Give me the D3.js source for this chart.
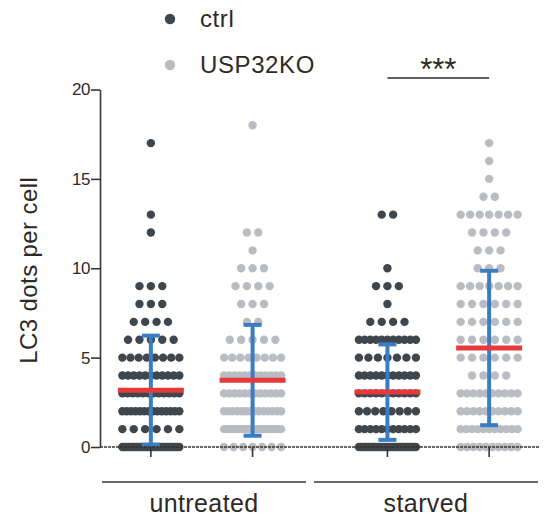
<!DOCTYPE html>
<html>
<head>
<meta charset="utf-8">
<script src="https://cdn.jsdelivr.net/npm/d3@7"></script>
<style>
  body { margin: 0; background: #fff; }
  text { font-family: "Liberation Sans", Arial, sans-serif; fill: #2e2a26; }
</style>
</head>
<body>
<div id="chart"></div>
<script>
// categories
var treatments = ["untreated", "starved"];
var genotypes = ["ctrl", "USP32KO"];

// LC3 dots per cell (0..18) and how many cells were counted at each level
var dotLevels = [0, 1, 2, 3, 4, 5, 6, 7, 8, 9, 10, 11, 12, 13, 14, 15, 16, 17, 18];
var ctrlUntreated = [26, 6, 14, 12, 11, 8, 5, 4, 3, 3, 0, 0, 1, 1, 0, 0, 0, 1, 0];
var koUntreated   = [7, 20, 14, 12, 12, 8, 5, 2, 3, 4, 3, 1, 2, 0, 0, 0, 0, 0, 1];
var ctrlStarved   = [26, 11, 8, 11, 11, 7, 11, 4, 1, 3, 1, 0, 0, 2, 0, 0, 0, 0, 0];
var koStarved     = [10, 11, 10, 10, 4, 6, 6, 6, 6, 7, 3, 3, 4, 7, 2, 1, 1, 1, 0];

// mean and SD (ctrl/untr, KO/untr, ctrl/starv, KO/starv)
var groupMeans = [3.18, 3.73, 3.07, 5.54];
var groupSDs   = [3.05, 3.10, 2.67, 4.32];

var yTicks = [0, 5, 10, 15, 20];

var groups = [
  {t: "untreated", g: "ctrl",    counts: ctrlUntreated},
  {t: "untreated", g: "USP32KO", counts: koUntreated},
  {t: "starved",   g: "ctrl",    counts: ctrlStarved},
  {t: "starved",   g: "USP32KO", counts: koStarved}
];
groups.forEach(function(d, i) { d.mean = groupMeans[i]; d.sd = groupSDs[i]; });

var color = d3.scaleOrdinal().domain(genotypes).range(["#3e474e", "#b9bdc3"]);

var W = 548, H = 527;
var svg = d3.select("#chart").append("svg")
  .attr("width", W)
  .attr("height", H);

// scales
var y = d3.scaleLinear().domain([0, 20]).range([447, 89.5]);
var xOuter = d3.scaleBand().domain(treatments).range([100, 540])
  .paddingInner(0.14).paddingOuter(0);
var xInner = d3.scaleBand().domain(genotypes).range([0, xOuter.bandwidth()]);
function xc(t, g) { return xOuter(t) + xInner(g) + xInner.bandwidth() / 2; }

// dots, one row per level, spread sideways
var dots = [];
groups.forEach(function(grp) {
  grp.counts.forEach(function(n, k) {
    var step = n > 1 ? Math.min(11.4, 57 / (n - 1)) : 0;
    for (var i = 0; i < n; i++) {
      dots.push({g: grp.g, cx: xc(grp.t, grp.g) + (i - (n - 1) / 2) * step, v: dotLevels[k]});
    }
  });
});

svg.append("g").selectAll("circle")
  .data(dots)
  .enter().append("circle")
    .attr("cx", function(d) { return d.cx; })
    .attr("cy", function(d) { return y(d.v); })
    .attr("r", 4.2)
    .attr("fill", function(d) { return color(d.g); });

// SD error bars
var eb = svg.append("g").attr("stroke", "#3a7dc4").attr("stroke-width", 4).attr("fill", "none");
groups.forEach(function(d) {
  var cx = xc(d.t, d.g);
  var top = y(d.mean + d.sd), bot = y(Math.max(0, d.mean - d.sd));
  eb.append("line").attr("x1", cx).attr("x2", cx).attr("y1", top).attr("y2", bot);
  eb.append("line").attr("x1", cx - 9).attr("x2", cx + 9).attr("y1", top).attr("y2", top);
  eb.append("line").attr("x1", cx - 9).attr("x2", cx + 9).attr("y1", bot).attr("y2", bot);
});

// mean lines
svg.append("g").selectAll("line")
  .data(groups)
  .enter().append("line")
    .attr("x1", function(d) { return xc(d.t, d.g) - 33; })
    .attr("x2", function(d) { return xc(d.t, d.g) + 33; })
    .attr("y1", function(d) { return y(d.mean); })
    .attr("y2", function(d) { return y(d.mean); })
    .attr("stroke", "#e8393a")
    .attr("stroke-width", 5);

// y axis
var yAxis = svg.append("g")
  .attr("transform", "translate(100,0)")
  .call(d3.axisLeft(y).tickValues(yTicks).tickSize(9).tickSizeOuter(0).tickPadding(1));
yAxis.select(".domain").attr("stroke", "#3a3530").attr("stroke-width", 1.6);
yAxis.selectAll(".tick line").attr("stroke", "#3a3530").attr("stroke-width", 1.6);
yAxis.selectAll(".tick text")
  .style("font-family", "'Liberation Sans', Arial, sans-serif")
  .style("font-size", "17px")
  .attr("fill", "#2e2a26")
  .attr("letter-spacing", "-0.5px");

svg.append("text")
  .attr("transform", "translate(37," + ((y(0) + y(20)) / 2 + 2) + ") rotate(-90)")
  .attr("text-anchor", "middle")
  .style("font-size", "24px")
  .attr("letter-spacing", "0.4px")
  .text("LC3 dots per cell");

// x axis at zero (dashed) with ticks under each group
svg.append("line")
  .attr("x1", 100).attr("x2", 540)
  .attr("y1", y(0)).attr("y2", y(0))
  .attr("stroke", "#3a3530").attr("stroke-width", 1.5)
  .attr("stroke-dasharray", "3,1");
svg.append("g").selectAll("line")
  .data(groups)
  .enter().append("line")
    .attr("x1", function(d) { return xc(d.t, d.g); })
    .attr("x2", function(d) { return xc(d.t, d.g); })
    .attr("y1", y(0))
    .attr("y2", y(0) + 10)
    .attr("stroke", "#3a3530").attr("stroke-width", 1.6);

// treatment group lines and labels
var split = (xc("untreated", "USP32KO") + xc("starved", "ctrl")) / 2 - 10;
var spans = [[102, split - 4], [split + 4, 538]];
treatments.forEach(function(t, i) {
  svg.append("line")
    .attr("x1", spans[i][0]).attr("x2", spans[i][1])
    .attr("y1", 482).attr("y2", 482)
    .attr("stroke", "#3a3530").attr("stroke-width", 1.6);
  svg.append("text")
    .attr("x", (spans[i][0] + spans[i][1]) / 2)
    .attr("y", 512)
    .attr("text-anchor", "middle")
    .style("font-size", "25px")
    .attr("letter-spacing", "0.4px")
    .text(t);
});

// significance bar
var s1 = xc("starved", "ctrl"), s2 = xc("starved", "USP32KO");
svg.append("line")
  .attr("x1", s1).attr("x2", s2)
  .attr("y1", 78).attr("y2", 78)
  .attr("stroke", "#2e2a26").attr("stroke-width", 1.6);
svg.append("text")
  .attr("x", (s1 + s2) / 2)
  .attr("y", 80)
  .attr("text-anchor", "middle")
  .style("font-size", "31px")
  .text("***");

// legend
genotypes.forEach(function(g, i) {
  var ly = 19 + i * 46;
  svg.append("circle").attr("cx", 170).attr("cy", ly).attr("r", 5.2).attr("fill", color(g));
  svg.append("text")
    .attr("x", 200).attr("y", ly + 8)
    .style("font-size", "24px")
    .attr("letter-spacing", "0.6px")
    .text(g);
});
</script>
</body>
</html>
